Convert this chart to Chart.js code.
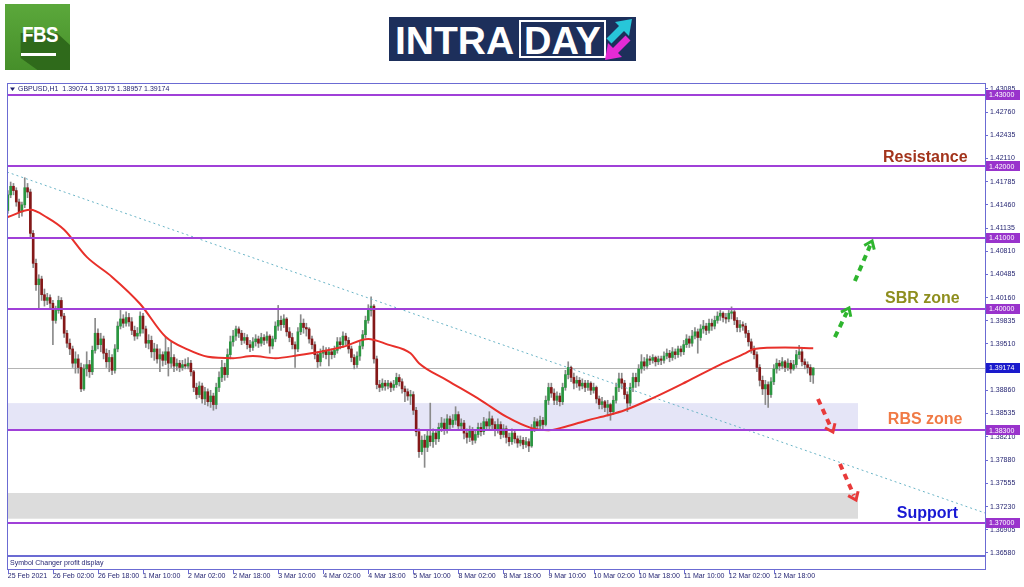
<!DOCTYPE html>
<html><head><meta charset="utf-8">
<script src="https://cdn.jsdelivr.net/npm/chart.js@4.4.1/dist/chart.umd.min.js"></script>
<style>
html,body{margin:0;padding:0;background:#fff;}
body{width:1024px;height:587px;position:relative;overflow:hidden;font-family:'Liberation Sans',Arial,sans-serif;}
#c{position:absolute;left:0;top:0;}
#fbs{position:absolute;left:5px;top:4px;width:65px;height:66px;background:linear-gradient(#5ba83b,#468f2a);overflow:hidden;}
#fbs .sh{position:absolute;left:0;top:0;width:65px;height:66px;background:#2f6a1b;clip-path:polygon(24% 44%,80% 44%,100% 62%,100% 100%,50% 100%,24% 82%);}
#fbs .t{position:absolute;left:14px;top:18px;width:40px;text-align:center;color:#fff;font:bold 22px 'Liberation Sans',Arial,sans-serif;transform:scaleX(0.85);letter-spacing:-0.5px;}
#fbs .u{position:absolute;left:16px;top:49px;width:35px;height:3px;background:#fff;}
#intra{position:absolute;left:389px;top:17px;}
</style></head>
<body>
<canvas id="c" width="1024" height="587"></canvas>
<div id="fbs"><div class="sh"></div><div class="t">FBS</div><div class="u"></div></div>
<svg id="intra" width="247" height="44" viewBox="0 0 247 44">
  <rect x="0" y="0" width="247" height="44" fill="#1d2f5b"/>
  <text x="6" y="37" fill="#fff" font-family="Liberation Sans, Arial, sans-serif" font-weight="bold" font-size="39">INTRA</text>
  <rect x="131" y="4" width="85" height="36" fill="none" stroke="#fff" stroke-width="2"/>
  <text x="135" y="37" fill="#fff" font-family="Liberation Sans, Arial, sans-serif" font-weight="bold" font-size="38">DAY</text>
  <line x1="220" y1="24" x2="233" y2="11" stroke="#27c6d9" stroke-width="7"/>
  <polygon points="243,2 226,5 240,19" fill="#27c6d9"/>
  <line x1="239" y1="21" x2="226" y2="34" stroke="#e52bd5" stroke-width="7"/>
  <polygon points="216,43 233,40 219,26" fill="#e52bd5"/>
</svg>
<script>
// ---------------- data ----------------
const symbolTitle = 'GBPUSD,H1  1.39074 1.39175 1.38957 1.39174';
const subWindowTitle = 'Symbol Changer profit display';
const firstOpen = 1.4138;
const closes = [
1.4160,1.4172,1.4166,1.4150,1.4136,1.4146,1.4170,1.4164,1.4106,1.4064,
1.4034,1.4042,1.4020,1.4012,1.4016,1.4008,1.3984,1.3998,1.4012,1.3990,
1.3966,1.3952,1.3944,1.3924,1.3930,1.3918,1.3888,1.3916,1.3922,1.3912,
1.3942,1.3966,1.3950,1.3958,1.3938,1.3926,1.3932,1.3914,1.3944,1.3976,
1.3986,1.3980,1.3988,1.3982,1.3970,1.3962,1.3966,1.3990,1.3972,1.3952,
1.3956,1.3940,1.3944,1.3930,1.3936,1.3928,1.3940,1.3924,1.3932,1.3920,
1.3924,1.3918,1.3922,1.3920,1.3924,1.3912,1.3890,1.3880,1.3892,1.3874,
1.3884,1.3870,1.3878,1.3866,1.3890,1.3904,1.3918,1.3908,1.3936,1.3954,
1.3962,1.3972,1.3966,1.3956,1.3960,1.3950,1.3946,1.3954,1.3958,1.3952,
1.3960,1.3956,1.3962,1.3948,1.3958,1.3976,1.3984,1.3978,1.3986,1.3968,
1.3960,1.3950,1.3944,1.3968,1.3980,1.3974,1.3972,1.3958,1.3950,1.3936,
1.3926,1.3938,1.3942,1.3936,1.3940,1.3936,1.3942,1.3954,1.3950,1.3962,
1.3956,1.3944,1.3932,1.3922,1.3934,1.3948,1.3964,1.3984,1.3998,1.4004,
1.3930,1.3894,1.3890,1.3896,1.3892,1.3896,1.3890,1.3894,1.3904,1.3898,
1.3888,1.3884,1.3878,1.3880,1.3858,1.3828,1.3800,1.3816,1.3806,1.3822,
1.3814,1.3826,1.3818,1.3834,1.3840,1.3830,1.3846,1.3838,1.3844,1.3852,
1.3836,1.3840,1.3826,1.3820,1.3830,1.3816,1.3824,1.3834,1.3828,1.3842,
1.3836,1.3846,1.3838,1.3830,1.3838,1.3824,1.3832,1.3820,1.3814,1.3826,
1.3818,1.3812,1.3816,1.3810,1.3814,1.3808,1.3832,1.3842,1.3836,1.3844,
1.3838,1.3872,1.3890,1.3882,1.3872,1.3878,1.3870,1.3890,1.3908,1.3918,
1.3904,1.3896,1.3900,1.3892,1.3896,1.3890,1.3896,1.3886,1.3890,1.3874,
1.3866,1.3870,1.3862,1.3866,1.3856,1.3872,1.3890,1.3902,1.3896,1.3880,
1.3868,1.3890,1.3904,1.3898,1.3916,1.3926,1.3920,1.3930,1.3928,1.3932,
1.3926,1.3930,1.3928,1.3934,1.3938,1.3932,1.3940,1.3936,1.3944,1.3940,
1.3950,1.3958,1.3952,1.3962,1.3968,1.3960,1.3972,1.3976,1.3970,1.3980,
1.3976,1.3984,1.3990,1.3994,1.3988,1.3986,1.3994,1.3996,1.3984,1.3974,
1.3978,1.3976,1.3966,1.3954,1.3944,1.3936,1.3918,1.3900,1.3888,1.3894,
1.3880,1.3898,1.3916,1.3924,1.3920,1.3926,1.3918,1.3924,1.3916,1.3922,
1.3936,1.3940,1.3926,1.3922,1.3918,1.39074,1.39174];
const highs = [
1.4166,1.4178,1.4176,1.4170,1.4154,1.4150,1.4184,1.4176,1.4168,1.4110,
1.4070,1.4048,1.4046,1.4028,1.4022,1.4020,1.4012,1.4004,1.4018,1.4016,
1.3994,1.3970,1.3958,1.3948,1.3940,1.3936,1.3924,1.3922,1.3940,1.3928,
1.3948,1.3987,1.3972,1.3966,1.3962,1.3944,1.3942,1.3936,1.3950,1.3982,
1.3998,1.3992,1.3996,1.3994,1.3988,1.3976,1.3974,1.3996,1.3994,1.3976,
1.3964,1.3962,1.3952,1.3950,1.3944,1.3940,1.3960,1.3946,1.3954,1.3936,
1.3930,1.3928,1.3928,1.3930,1.3932,1.3928,1.3914,1.3896,1.3898,1.3896,
1.3890,1.3888,1.3886,1.3882,1.3896,1.3912,1.3928,1.3924,1.3944,1.3962,
1.3970,1.3976,1.3975,1.3970,1.3966,1.3964,1.3956,1.3960,1.3964,1.3962,
1.3966,1.3964,1.3968,1.3964,1.3962,1.3982,1.4005,1.3990,1.3992,1.3988,
1.3974,1.3966,1.3954,1.3974,1.3992,1.3986,1.3980,1.3974,1.3962,1.3954,
1.3940,1.3944,1.3948,1.3946,1.3946,1.3944,1.3948,1.3960,1.3960,1.3968,
1.3966,1.3960,1.3948,1.3936,1.3940,1.3954,1.3970,1.3990,1.4006,1.4017,
1.4006,1.3934,1.3900,1.3902,1.3900,1.3900,1.3898,1.3900,1.3910,1.3908,
1.3902,1.3892,1.3888,1.3886,1.3884,1.3862,1.3832,1.3822,1.3824,1.3830,
1.3868,1.3832,1.3830,1.3840,1.3848,1.3846,1.3852,1.3850,1.3852,1.3863,
1.3856,1.3846,1.3844,1.3832,1.3836,1.3834,1.3830,1.3840,1.3840,1.3848,
1.3846,1.3856,1.3850,1.3842,1.3846,1.3842,1.3838,1.3836,1.3826,1.3832,
1.3830,1.3822,1.3822,1.3820,1.3820,1.3818,1.3838,1.3848,1.3846,1.3850,
1.3848,1.3878,1.3896,1.3896,1.3888,1.3884,1.3882,1.3896,1.3914,1.3926,
1.3920,1.3910,1.3906,1.3904,1.3902,1.3900,1.3900,1.3898,1.3896,1.3892,
1.3878,1.3876,1.3872,1.3872,1.3868,1.3878,1.3896,1.3910,1.3910,1.3900,
1.3884,1.3896,1.3910,1.3910,1.3922,1.3936,1.3932,1.3936,1.3934,1.3936,
1.3934,1.3934,1.3934,1.3940,1.3944,1.3942,1.3946,1.3944,1.3948,1.3948,
1.3956,1.3964,1.3962,1.3970,1.3974,1.3972,1.3978,1.3984,1.3980,1.3986,
1.3986,1.3990,1.3996,1.3998,1.3996,1.3994,1.3998,1.4003,1.3998,1.3988,
1.3984,1.3982,1.3980,1.3970,1.3958,1.3948,1.3940,1.3922,1.3906,1.3900,
1.3898,1.3904,1.3922,1.3930,1.3928,1.3932,1.3928,1.3930,1.3928,1.3928,
1.3942,1.3949,1.3944,1.3930,1.3926,1.3922,1.39175];
const lows = [
1.4134,1.4156,1.4160,1.4144,1.4128,1.4130,1.4142,1.4156,1.4100,1.4058,
1.4026,1.4000,1.4012,1.4004,1.4006,1.4002,1.3950,1.3980,1.3994,1.3986,
1.3960,1.3946,1.3936,1.3918,1.3910,1.3910,1.3884,1.3886,1.3906,1.3904,
1.3908,1.3938,1.3944,1.3940,1.3930,1.3918,1.3912,1.3908,1.3910,1.3940,
1.3972,1.3974,1.3976,1.3976,1.3964,1.3956,1.3958,1.3962,1.3966,1.3946,
1.3944,1.3932,1.3928,1.3924,1.3912,1.3920,1.3922,1.3906,1.3918,1.3912,
1.3914,1.3912,1.3914,1.3916,1.3916,1.3906,1.3884,1.3874,1.3876,1.3868,
1.3866,1.3864,1.3862,1.3858,1.3860,1.3884,1.3898,1.3900,1.3904,1.3930,
1.3948,1.3956,1.3960,1.3950,1.3952,1.3944,1.3940,1.3942,1.3948,1.3946,
1.3948,1.3950,1.3952,1.3938,1.3944,1.3954,1.3970,1.3970,1.3974,1.3962,
1.3954,1.3944,1.3918,1.3940,1.3964,1.3966,1.3962,1.3952,1.3944,1.3930,
1.3918,1.3920,1.3932,1.3930,1.3920,1.3930,1.3932,1.3938,1.3944,1.3946,
1.3950,1.3938,1.3926,1.3916,1.3918,1.3928,1.3944,1.3960,1.3980,1.3990,
1.3924,1.3888,1.3884,1.3886,1.3886,1.3888,1.3884,1.3886,1.3890,1.3892,
1.3882,1.3870,1.3872,1.3866,1.3852,1.3822,1.3792,1.3796,1.3778,1.3800,
1.3808,1.3806,1.3810,1.3814,1.3828,1.3824,1.3826,1.3830,1.3834,1.3838,
1.3830,1.3830,1.3818,1.3812,1.3814,1.3810,1.3812,1.3820,1.3822,1.3824,
1.3830,1.3832,1.3830,1.3822,1.3826,1.3818,1.3820,1.3812,1.3808,1.3810,
1.3812,1.3806,1.3808,1.3804,1.3806,1.3800,1.3806,1.3828,1.3830,1.3832,
1.3832,1.3836,1.3866,1.3876,1.3866,1.3866,1.3864,1.3866,1.3886,1.3902,
1.3898,1.3888,1.3890,1.3886,1.3888,1.3884,1.3886,1.3880,1.3882,1.3868,
1.3860,1.3860,1.3856,1.3850,1.3844,1.3852,1.3868,1.3884,1.3888,1.3874,
1.3856,1.3864,1.3884,1.3890,1.3892,1.3910,1.3914,1.3916,1.3922,1.3924,
1.3920,1.3922,1.3922,1.3924,1.3930,1.3926,1.3928,1.3930,1.3932,1.3934,
1.3936,1.3946,1.3946,1.3948,1.3958,1.3938,1.3956,1.3966,1.3964,1.3966,
1.3970,1.3972,1.3980,1.3984,1.3982,1.3980,1.3982,1.3986,1.3978,1.3968,
1.3968,1.3970,1.3960,1.3948,1.3938,1.3930,1.3912,1.3892,1.3880,1.3866,
1.3862,1.3876,1.3894,1.3910,1.3914,1.3916,1.3912,1.3914,1.3910,1.3914,
1.3918,1.3930,1.3920,1.3916,1.3910,1.3898,1.38957];
// moving average: [bar index, price]
const maPoints = [[0,1.4129],[8,1.4139],[14,1.4128],[20,1.4111],[28,1.4073],[37,1.4045],[47,1.4007],
[56,1.3961],[64,1.3943],[71,1.3933],[80,1.3931],[87,1.3934],[95,1.3931],[103,1.3935],[111,1.3940],
[119,1.3947],[128,1.3958],[135,1.3950],[143,1.3938],[146,1.3924],[156,1.3900],[168,1.3872],[177,1.3849],
[186,1.3833],[192,1.3830],[198,1.3835],[206,1.3844],[213,1.3851],[219,1.3858],[229,1.3875],[241,1.3898],
[253,1.3922],[262,1.3938],[265,1.3944],[276,1.3946],[286,1.3945]];
const trendPoints = [[-0.3,1.4192],[347,1.3714]];
const levels = [1.43000,1.42000,1.41000,1.40000,1.38300,1.37000];
const lastPrice = 1.39174;
const priceTicks = [1.43085,1.42760,1.42435,1.42110,1.41785,1.41460,1.41135,1.40810,1.40485,1.40160,
1.39835,1.39510,1.39185,1.38860,1.38535,1.38210,1.37880,1.37555,1.37230,1.36905,1.36580];
const timeLabels = ['25 Feb 2021','26 Feb 02:00','26 Feb 18:00','1 Mar 10:00','2 Mar 02:00','2 Mar 18:00',
'3 Mar 10:00','4 Mar 02:00','4 Mar 18:00','5 Mar 10:00','8 Mar 02:00','8 Mar 18:00','9 Mar 10:00',
'10 Mar 02:00','10 Mar 18:00','11 Mar 10:00','12 Mar 02:00','12 Mar 18:00'];
const barsPerLabel = 16;
const zoneRBS = [-0.3,301.9,1.3830,1.3868];
const zoneSupport = [-0.3,301.9,1.3706,1.3742];
const noteTexts = ['Resistance','SBR zone','RBS zone','Support'];
const noteAnchors = [[310.8,1.42117],[311.5,1.40140],[312.5,1.38444],[315.7,1.37126]];
const arrowFrom = [[293.7,1.39607],[300.8,1.40392],[287.7,1.38738],[295.5,1.37827]];
const arrowTo   = [[298.7,1.40014],[306.9,1.40953],[293.0,1.38275],[301.2,1.37322]];
const xRange = [-0.3, 347.0];
const yRange = [1.36551, 1.43154];

// ---------------- styles ----------------
const C = {frame:'#6b6bd3', text:'#1f1f6e', bull:'#2a9640', bear:'#841818', wick:'#8a8a8a',
  ma:'#e8302a', trend:'#6ab4c6', level:'#a040d8', levelBox:'#9933cc', lastBox:'#1a1acc',
  lastLine:'#b4b4b4', zoneA:'#e5e5f7', zoneB:'#dcdcdc'};
const noteColors = ['#a3341c','#8e8e1e','#f07a45','#1818d4'];
const arrowColors = ['#2eb52e','#2eb52e','#e83a3a','#e83a3a'];

const opens = closes.map((c,i)=> i===0 ? firstOpen : closes[i-1]);
const bodyData = closes.map((c,i)=>({x:i, y:[opens[i], c]}));
const wickData = closes.map((c,i)=>({x:i, y:[lows[i], highs[i]]}));
const bodyColors = closes.map((c,i)=> c >= opens[i] ? C.bull : C.bear);

function drawArrow(ctx,x0,y0,x1,y1,color){
  const dx=x1-x0, dy=y1-y0, len=Math.hypot(dx,dy), ux=dx/len, uy=dy/len;
  ctx.save();
  ctx.strokeStyle=color; ctx.lineWidth=4; ctx.setLineDash([6,5]);
  ctx.beginPath(); ctx.moveTo(x0,y0); ctx.lineTo(x1-ux*5,y1-uy*5); ctx.stroke();
  ctx.setLineDash([]); ctx.lineWidth=3; ctx.lineJoin='miter';
  const ang=Math.atan2(dy,dx), hl=9;
  ctx.beginPath();
  ctx.moveTo(x1-hl*Math.cos(ang-0.65), y1-hl*Math.sin(ang-0.65));
  ctx.lineTo(x1,y1);
  ctx.lineTo(x1-hl*Math.cos(ang+0.65), y1-hl*Math.sin(ang+0.65));
  ctx.stroke();
  ctx.restore();
}

const overlay = {
  id:'overlay',
  beforeDatasetsDraw(chart){
    const {ctx, chartArea:a, scales:{x,y}} = chart;
    ctx.save();
    [[zoneRBS,C.zoneA],[zoneSupport,C.zoneB]].forEach(([z,col])=>{
      const x0=Math.max(a.left,x.getPixelForValue(z[0])), x1=x.getPixelForValue(z[1]);
      const y0=y.getPixelForValue(z[3]), y1=y.getPixelForValue(z[2]);
      ctx.fillStyle=col; ctx.fillRect(x0,y0,x1-x0,y1-y0);
    });
    const yl=Math.round(y.getPixelForValue(lastPrice))+0.5;
    ctx.strokeStyle=C.lastLine; ctx.lineWidth=1;
    ctx.beginPath(); ctx.moveTo(a.left,yl); ctx.lineTo(a.right,yl); ctx.stroke();
    ctx.restore();
  },
  afterDatasetsDraw(chart){
    const {ctx, chartArea:a, scales:{y}} = chart;
    ctx.save();
    ctx.strokeStyle=C.level; ctx.lineWidth=2;
    levels.forEach(v=>{
      const py=Math.round(y.getPixelForValue(v));
      ctx.beginPath(); ctx.moveTo(a.left,py); ctx.lineTo(a.right,py); ctx.stroke();
    });
    ctx.restore();
  },
  afterDraw(chart){
    const {ctx, chartArea:a, scales:{x,y}} = chart;
    ctx.save();
    ctx.font='7px "Liberation Sans", Arial, sans-serif';
    ctx.textBaseline='middle'; ctx.textAlign='left';
    const box=(v,col)=>{
      const py=y.getPixelForValue(v);
      ctx.fillStyle=col; ctx.fillRect(a.right+1,Math.round(py)-5,34,10);
      ctx.fillStyle='#fff'; ctx.fillText(v.toFixed(5),a.right+4,py+0.5);
    };
    levels.forEach(v=>box(v,C.levelBox));
    box(lastPrice,C.lastBox);
    // frame
    ctx.strokeStyle=C.frame; ctx.lineWidth=1;
    ctx.strokeRect(a.left+0.5,a.top-0.5,a.right-a.left,569-a.top+1);
    ctx.lineWidth=2;
    ctx.beginPath(); ctx.moveTo(a.left,a.bottom+1); ctx.lineTo(a.right,a.bottom+1); ctx.stroke();
    ctx.lineWidth=1;
    ctx.beginPath(); ctx.moveTo(a.right+0.5,a.top-1); ctx.lineTo(a.right+0.5,570); ctx.stroke();
    // x tick marks
    timeLabels.forEach((t,k)=>{
      const px=Math.round(x.getPixelForValue(k*barsPerLabel))+0.5;
      ctx.beginPath(); ctx.moveTo(px,570); ctx.lineTo(px,574); ctx.stroke();
    });
    // titles
    ctx.fillStyle=C.text;
    ctx.beginPath(); ctx.moveTo(10,87.5); ctx.lineTo(15,87.5); ctx.lineTo(12.5,91); ctx.closePath(); ctx.fill();
    ctx.fillText(symbolTitle,18,89.5);
    ctx.fillText(subWindowTitle,10,563.5);
    // notes
    ctx.font='bold 16px "Liberation Sans", Arial, sans-serif';
    noteTexts.forEach((t,i)=>{
      ctx.fillStyle=noteColors[i];
      ctx.fillText(t, x.getPixelForValue(noteAnchors[i][0]), y.getPixelForValue(noteAnchors[i][1]));
    });
    // arrows
    arrowFrom.forEach((f,i)=>{
      const t=arrowTo[i];
      drawArrow(ctx, x.getPixelForValue(f[0]), y.getPixelForValue(f[1]),
                     x.getPixelForValue(t[0]), y.getPixelForValue(t[1]), arrowColors[i]);
    });
    ctx.restore();
  }
};

Chart.defaults.font.family = '"Liberation Sans", Arial, sans-serif';
new Chart(document.getElementById('c'), {
  type:'bar',
  data:{datasets:[
    {type:'line', data:maPoints.map(p=>({x:p[0],y:p[1]})), borderColor:C.ma, borderWidth:2,
     pointRadius:0, tension:0.4, cubicInterpolationMode:'monotone', order:0},
    {type:'line', data:trendPoints.map(p=>({x:p[0],y:p[1]})), borderColor:C.trend, borderWidth:1,
     borderDash:[2,3], pointRadius:0, order:0},
    {type:'bar', data:bodyData, backgroundColor:bodyColors, barThickness:2, minBarLength:1,
     grouped:false, order:1},
    {type:'bar', data:wickData, backgroundColor:C.wick, barThickness:1, grouped:false, order:2}
  ]},
  options:{
    responsive:false, animation:false, events:[],
    layout:{padding:{left:7,top:84,right:0,bottom:0}},
    plugins:{legend:{display:false}, tooltip:{enabled:false}},
    scales:{
      x:{type:'linear', min:xRange[0], max:xRange[1], offset:false,
         afterBuildTicks:s=>{ s.ticks = timeLabels.map((t,k)=>({value:k*barsPerLabel})); },
         afterFit:s=>{ s.height = 32; s.paddingLeft = 0; s.paddingRight = 0; },
         grid:{display:false, drawTicks:false}, border:{display:false},
         ticks:{autoSkip:false, maxRotation:0, align:'start', padding:17, color:C.text,
           font:{size:7}, callback:v=>timeLabels[Math.round(v/barsPerLabel)]}},
      y:{type:'linear', position:'right', min:yRange[0], max:yRange[1],
         afterBuildTicks:s=>{ s.ticks = priceTicks.map(v=>({value:v})); },
         afterFit:s=>{ s.width = 39; s.paddingTop = 0; s.paddingBottom = 0; },
         grid:{drawOnChartArea:false, drawTicks:true, tickLength:3, color:C.frame},
         border:{display:false},
         ticks:{autoSkip:false, padding:2, color:C.text, font:{size:7}, callback:v=>Number(v).toFixed(5)}}
    }
  },
  plugins:[overlay]
});
</script>
</body></html>
